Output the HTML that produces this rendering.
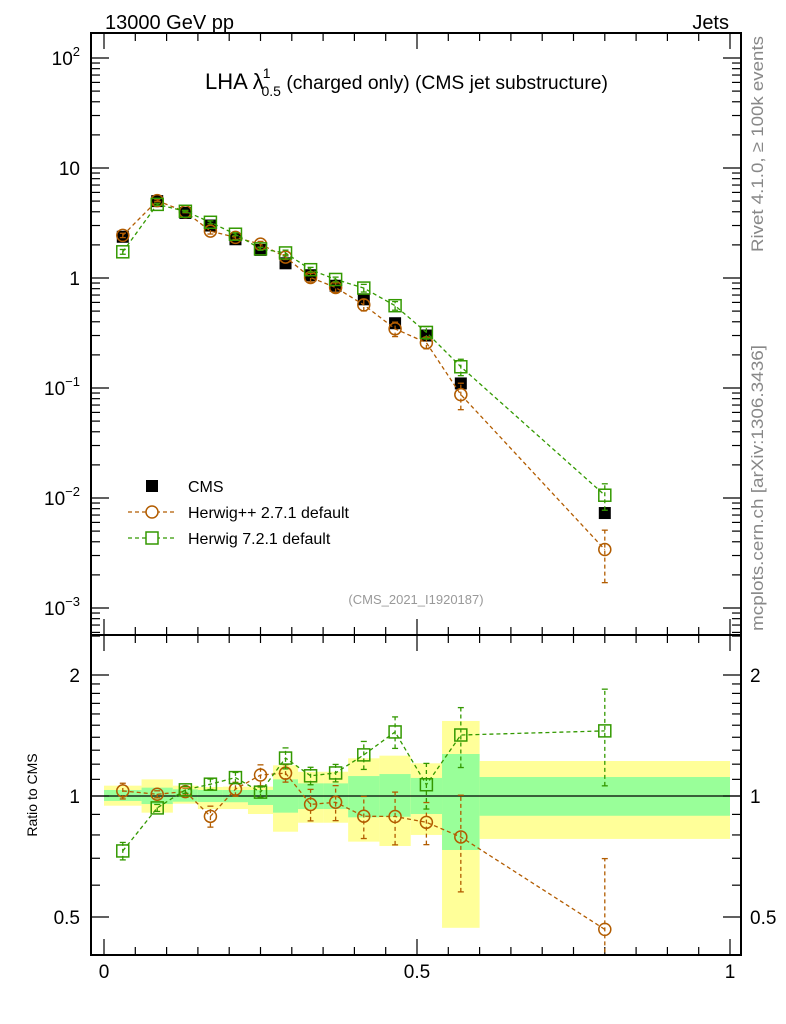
<!DOCTYPE html>
<html><head><meta charset="utf-8"><style>
body{margin:0;background:#fff;}
svg{display:block;font-family:"Liberation Sans",sans-serif;}
</style></head><body>
<svg id="c" width="786" height="1024" viewBox="0 0 786 1024">
<text x="105" y="29" font-size="20">13000 GeV pp</text>
<text x="729" y="29" font-size="20" text-anchor="end">Jets</text>
<text x="205" y="89" font-size="22">LHA λ<tspan font-size="14" dy="-11" dx="-1">1</tspan><tspan font-size="14" dy="18" dx="-9">0.5</tspan><tspan dy="-7" font-size="19" textLength="327" lengthAdjust="spacingAndGlyphs"> (charged only) (CMS jet substructure)</tspan></text>
<text transform="translate(763,252) rotate(-90)" font-size="17" fill="#888" textLength="216" lengthAdjust="spacingAndGlyphs">Rivet 4.1.0, ≥ 100k events</text>
<text transform="translate(763,631) rotate(-90)" font-size="17" fill="#888" textLength="286" lengthAdjust="spacingAndGlyphs">mcplots.cern.ch [arXiv:1306.3436]</text>
<text x="416" y="604" font-size="13" fill="#999" text-anchor="middle">(CMS_2021_I1920187)</text>
<text transform="translate(37,795) rotate(-90)" font-size="14" text-anchor="middle">Ratio to CMS</text>
</svg>
<script>
const xs=[0.03,0.085,0.13,0.17,0.21,0.25,0.29,0.33,0.37,0.415,0.465,0.515,0.57,0.8];
const edges=[0,0.06,0.11,0.15,0.19,0.23,0.27,0.31,0.35,0.39,0.44,0.49,0.54,0.6,1.0];
const cms=[2.37,5.0,3.9,3.0,2.25,1.8,1.36,1.06,0.85,0.64,0.388,0.30,0.11,0.0073];
const hpp=[2.44,5.05,4.0,2.67,2.34,2.03,1.55,1.01,0.82,0.57,0.345,0.258,0.087,0.0034];
const h7=[1.73,4.67,4.04,3.21,2.50,1.84,1.69,1.19,0.97,0.81,0.56,0.32,0.156,0.0106];
const hppErr=[0.045,0.02,0.02,0.06,0.04,0.06,0.05,0.09,0.1,0.12,0.15,0.12,0.27,0.5];
const h7Err=[0.05,0.02,0.02,0.03,0.03,0.03,0.06,0.05,0.05,0.08,0.09,0.13,0.17,0.27];
const bandInLo=[0.972,0.955,0.968,0.966,0.965,0.950,0.909,0.928,0.928,0.885,0.888,0.902,0.734,0.893];
const bandInHi=[1.035,1.049,1.039,1.035,1.035,1.035,1.100,1.075,1.075,1.121,1.134,1.109,1.272,1.115];
const bandOutLo=[0.946,0.909,0.957,0.928,0.928,0.902,0.815,0.858,0.858,0.770,0.751,0.800,0.470,0.782];
const bandOutHi=[1.061,1.100,1.061,1.053,1.055,1.055,1.192,1.149,1.149,1.241,1.260,1.206,1.537,1.222];
const mainTicks=[2,1,0,-1,-2,-3];
const ratioTicks=[2,1,0.5];
const xTicks=[0,0.5,1];

const S=document.getElementById('c');const NS='http://www.w3.org/2000/svg';
function mk(t,a,p){const e=document.createElementNS(NS,t);for(const k in a)e.setAttribute(k,a[k]);(p||S).appendChild(e);return e;}
const L=91,R=741,T=33,M=635,B=955;
const X=v=>104+v*626;
const YM=v=>278-110*Math.log10(v);
const YR=v=>796-121*Math.log2(v);
const gb=mk('g',{});
const clipR=mk('clipPath',{id:'cr'});mk('rect',{x:L,y:M,width:R-L,height:B-M},clipR);
const clipM=mk('clipPath',{id:'cm'});mk('rect',{x:L,y:T,width:R-L,height:M-T},clipM);
for(let i=0;i<xs.length;i++){
 let r=mk('rect',{x:X(edges[i]),y:YR(bandOutHi[i]),width:X(edges[i+1])-X(edges[i]),height:YR(bandOutLo[i])-YR(bandOutHi[i]),fill:'#ffff99'},gb);
 
 r=mk('rect',{x:X(edges[i]),y:YR(bandInHi[i]),width:X(edges[i+1])-X(edges[i]),height:YR(bandInLo[i])-YR(bandInHi[i]),fill:'#99ff99'},gb);
 
}
mk('line',{x1:L,x2:R,y1:YR(1),y2:YR(1),stroke:'#000','stroke-width':1.3});
mk('rect',{x:L,y:T,width:R-L,height:M-T,fill:'none',stroke:'#000','stroke-width':2});
mk('rect',{x:L,y:M,width:R-L,height:B-M,fill:'none',stroke:'#000','stroke-width':2});
for(let k=0;k<=20;k++){const v=k*0.05;const len=(k%10==0)?16:8;
 for(const [y0,d] of [[M,-1],[T,1],[B,-1],[M,1]]) mk('line',{x1:X(v),x2:X(v),y1:y0,y2:y0+d*len,stroke:'#000','stroke-width':1.2});}
xTicks.forEach(v=>{const t=mk('text',{x:X(v),y:978,'font-size':19,'text-anchor':'middle'});t.textContent=String(v);});
for(let d=-4;d<=2;d++)for(let m=1;m<10;m++){const v=m*Math.pow(10,d);const y=YM(v);if(y<T||y>M)continue;const len=m==1?18:9;
 mk('line',{x1:L,x2:L+len,y1:y,y2:y,stroke:'#000','stroke-width':1.2});mk('line',{x1:R,x2:R-len,y1:y,y2:y,stroke:'#000','stroke-width':1.2});}
mainTicks.forEach(e=>{const y=YM(Math.pow(10,e))+7;const t=mk('text',{x:80,y:y,'font-size':19,'text-anchor':'end'});
 if(e==1)t.textContent='10';else if(e==0)t.textContent='1';else{t.textContent='10';const s=mk('tspan',{dy:-9,'font-size':13},t);s.textContent=e<0?'−'+(-e):String(e);}
 });
const rt=[0.4,0.5,0.6,0.7,0.8,0.9,1,1.1,1.2,1.3,1.4,1.5,1.6,1.7,1.8,1.9,2,2.5];
rt.forEach(v=>{const y=YR(v);if(y<M||y>B)return;const big=(v==0.5||v==1||v==2);const len=big?18:9;
 mk('line',{x1:L,x2:L+len,y1:y,y2:y,stroke:'#000','stroke-width':1.2});mk('line',{x1:R,x2:R-len,y1:y,y2:y,stroke:'#000','stroke-width':1.2});});
ratioTicks.forEach(v=>{for(const [x,a] of [[80,'end'],[750,'start']]){const t=mk('text',{x:x,y:YR(v)+7,'font-size':19,'text-anchor':a});t.textContent=String(v);}});
function series(vals,errs,col,shape,name){
 const gm=mk('g',{'clip-path':'url(#cm)'});
 const gr=mk('g',{'clip-path':'url(#cr)'});
 const pm=xs.map((x,i)=>X(x)+','+YM(vals[i])).join(' ');
 const pr=xs.map((x,i)=>X(x)+','+YR(vals[i]/cms[i])).join(' ');
 mk('polyline',{points:pm,fill:'none',stroke:col,'stroke-width':1.3,'stroke-dasharray':'4,3'},gm);
 mk('polyline',{points:pr,fill:'none',stroke:col,'stroke-width':1.3,'stroke-dasharray':'4,3'},gr);
 xs.forEach((x,i)=>{
  for(const [g,Y,v] of [[gm,YM,vals[i]],[gr,YR,vals[i]/cms[i]]]){
   const lo=Math.max(v*(1-errs[i]),1e-5),hi=v*(1+errs[i]);
   mk('line',{x1:X(x),x2:X(x),y1:Y(lo),y2:Y(hi),stroke:col,'stroke-width':1.3,'stroke-dasharray':'4,3'},g);
   mk('line',{x1:X(x)-3,x2:X(x)+3,y1:Y(lo),y2:Y(lo),stroke:col,'stroke-width':1.3},g);
   mk('line',{x1:X(x)-3,x2:X(x)+3,y1:Y(hi),y2:Y(hi),stroke:col,'stroke-width':1.3},g);
   let m;
   if(shape=='c')m=mk('circle',{cx:X(x),cy:Y(v),r:6,fill:'none',stroke:col,'stroke-width':1.5},g);
   else m=mk('rect',{x:X(x)-6,y:Y(v)-6,width:12,height:12,fill:'none',stroke:col,'stroke-width':1.5},g);
   
  }});
}
const gc=mk('g',{});
xs.forEach((x,i)=>{const r=mk('rect',{x:X(x)-6,y:YM(cms[i])-6,width:12,height:12,fill:'#000'},gc);});
series(hpp,hppErr,'#b25c00','c','herwigpp');
series(h7,h7Err,'#339900','s','herwig7');
const lg=mk('g',{});
mk('rect',{x:146,y:480,width:12,height:12,fill:'#000'},lg);
mk('line',{x1:128,x2:176,y1:512,y2:512,stroke:'#b25c00','stroke-width':1.3,'stroke-dasharray':'4,3'},lg);
mk('circle',{cx:152,cy:512,r:6,fill:'#fff',stroke:'#b25c00','stroke-width':1.5},lg);
mk('line',{x1:128,x2:176,y1:538,y2:538,stroke:'#339900','stroke-width':1.3,'stroke-dasharray':'4,3'},lg);
mk('rect',{x:146,y:532,width:12,height:12,fill:'#fff',stroke:'#339900','stroke-width':1.5},lg);
[['CMS',492],['Herwig++ 2.7.1 default',518],['Herwig 7.2.1 default',544]].forEach(([s,y])=>{const t=mk('text',{x:188,y:y,'font-size':16},lg);t.textContent=s;});
</script>
</body></html>
